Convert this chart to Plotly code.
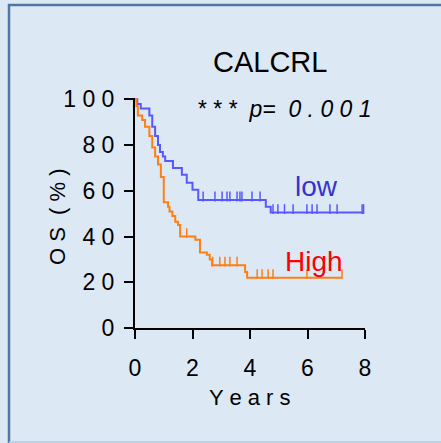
import plotly.graph_objects as go

# Kaplan-Meier steps: (time in years, survival %)
low_t = [0, 0.08, 0.2, 0.5, 0.6, 0.7, 0.8, 0.87, 0.97, 1.05, 1.32, 1.63, 1.8, 2.0, 2.2, 4.55, 4.72]
low_s = [100, 98, 96, 93, 88, 84, 80, 77, 75, 73, 70, 67, 63.5, 60.5, 56, 53, 50.5]
low_end = 7.95
low_cens_t = [2.37, 2.78, 3.03, 3.2, 3.3, 3.55, 3.65, 3.72, 4.07, 4.35,
              4.8, 4.97, 5.2, 5.5, 5.98, 6.16, 6.33, 6.78, 7.03, 7.9, 7.95]

high_t = [0, 0.05, 0.1, 0.25, 0.35, 0.5, 0.6, 0.7, 0.8, 0.9, 1.0, 1.15, 1.2,
          1.3, 1.4, 1.5, 1.57, 2.1, 2.26, 2.5, 2.6, 2.68, 3.83, 3.9]
high_s = [100, 97, 93, 91, 88, 84, 79, 75, 71.5, 66, 55, 53, 51,
          49, 46.5, 45, 40, 38.6, 33, 32, 30, 27.5, 24.5, 22]
high_end = 7.2
high_cens_t = [1.8, 2.7, 2.95, 3.13, 3.3, 3.55, 4.25, 4.42, 4.63, 4.8, 5.98, 7.2]

y_ticks = [0, 20, 40, 60, 80, 100]
x_ticks = [0, 2, 4, 6, 8]

BLUE = "#5858ff"
ORANGE = "#ff7f12"
BG = "#dde8f5"
FONT = "Arial, Liberation Sans, sans-serif"

W, H = 441, 443
L, R, T, B = 135, 76, 98, 115
pw, ph = W - L - R, H - T - B
tick_up = 3.5 * 100 / ph  # half of the censor-tick length, in % units


def surv_at(ts, ss, t):
    s = ss[0]
    for ti, si in zip(ts, ss):
        if ti <= t:
            s = si
    return s


def km_trace(ts, ss, t_end, color):
    return go.Scatter(x=ts + [t_end], y=ss + [ss[-1]], mode="lines",
                      line=dict(color=color, width=2, shape="hv"),
                      hoverinfo="skip", showlegend=False)


def cens_trace(ts, ss, cens, color):
    ys = [surv_at(ts, ss, t) + tick_up for t in cens]
    return go.Scatter(x=cens, y=ys, mode="markers",
                      marker=dict(symbol="line-ns", size=7,
                                  line=dict(color=color, width=1.5)),
                      hoverinfo="skip", showlegend=False)


fig = go.Figure()
fig.add_trace(km_trace(low_t, low_s, low_end, BLUE))
fig.add_trace(cens_trace(low_t, low_s, low_cens_t, BLUE))
fig.add_trace(km_trace(high_t, high_s, high_end, ORANGE))
fig.add_trace(cens_trace(high_t, high_s, high_cens_t, ORANGE))


def spaced(v):
    return " ".join(str(v))


def px_x(px):
    return (px - L) / pw


def px_y(py):
    return (H - B - py) / ph


axis_common = dict(showgrid=False, zeroline=False, showline=True,
                   linecolor="black", linewidth=2, ticks="outside",
                   ticklen=9, tickwidth=2, tickcolor="black",
                   tickfont=dict(family=FONT, size=23, color="black"))

fig.update_xaxes(range=[0, 8], tickmode="array", tickvals=x_ticks,
                 ticktext=[spaced(v) for v in x_ticks],
                 ticklabelstandoff=9, **axis_common)
fig.update_yaxes(range=[0, 100.6], tickmode="array", tickvals=y_ticks,
                 ticktext=[spaced(v) for v in y_ticks],
                 ticklabelstandoff=5, **axis_common)

annotations = [
    dict(text="CALCRL", x=px_x(270), y=px_y(62), font=dict(size=29)),
    dict(text="<i>* * *  p=  0 . 0 0 1</i>", x=px_x(195), y=95.7, yref="y",
         xanchor="left", font=dict(size=23)),
    dict(text="low", x=px_x(316), y=px_y(186),
         font=dict(size=28, color="#3434cc")),
    dict(text="High", x=px_x(314), y=px_y(261),
         font=dict(size=28, color="#ff0000")),
    dict(text="Y e a r s", x=px_x(250), y=px_y(397), font=dict(size=22)),
    dict(text="O S  ( % )", x=px_x(57), y=px_y(217), textangle=-90,
         font=dict(size=22)),
]
for a in annotations:
    a.setdefault("xref", "paper")
    a.setdefault("yref", "paper")
    a.setdefault("xanchor", "center")
    a["yanchor"] = "middle"
    a["showarrow"] = False
    f = a["font"]
    f.setdefault("color", "black")
    f["family"] = FONT

# outer frame of the panel
shapes = [
    dict(type="rect", xref="paper", yref="paper",
         x0=px_x(9), x1=px_x(460), y0=px_y(460), y1=px_y(5),
         line=dict(color="#4d77a5", width=2.5), layer="below"),
    dict(type="line", xref="paper", yref="paper",
         x0=px_x(9), x1=px_x(460), y0=px_y(442), y1=px_y(442),
         line=dict(color="#b3cbe6", width=1.5), layer="below"),
]

fig.update_layout(width=W, height=H, margin=dict(l=L, r=R, t=T, b=B),
                  paper_bgcolor=BG, plot_bgcolor=BG,
                  annotations=annotations, shapes=shapes,
                  font=dict(family=FONT))

fig.write_html("out.html")
